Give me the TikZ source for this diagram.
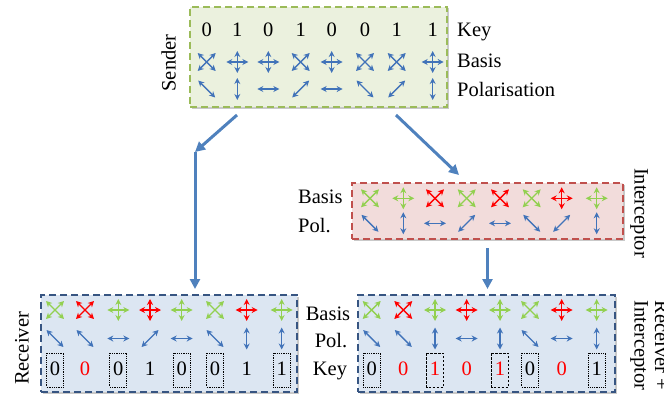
\documentclass[tikz,border=0pt]{standalone}
\usepackage{fontspec}
\setmainfont{Liberation Serif}
\usetikzlibrary{arrows.meta,shadows,calc}

\definecolor{sendfill}{RGB}{235,241,222}
\definecolor{senddraw}{RGB}{155,187,89}
\definecolor{intfill}{RGB}{242,220,219}
\definecolor{intdraw}{RGB}{192,80,77}
\definecolor{recfill}{RGB}{220,230,242}
\definecolor{recdraw}{RGB}{55,85,130}
\definecolor{symblue}{RGB}{65,115,185}
\definecolor{symgreen}{RGB}{146,208,80}
\definecolor{symred}{RGB}{255,0,0}
\definecolor{flowblue}{RGB}{79,129,189}

\tikzset{
  panel/.style={line width=2pt, dash pattern=on 7pt off 4pt, inner sep=0pt,
    drop shadow={shadow xshift=1.5pt, shadow yshift=-1.5pt, opacity=0.3, fill=black!70}},
  lbl/.style={font=\fontsize{20.5}{24}\selectfont, inner sep=0pt},
  flow/.style={draw=flowblue, line width=3pt, -{Triangle[length=10pt,width=10pt]}},
  sym/.style={line width=1.4pt, {Stealth[length=6pt,width=6pt]}-{Stealth[length=6pt,width=6pt]}},
  dotbox/.style={draw=black, line width=0.8pt, densely dotted},
  dashbox/.style={draw=black, line width=0.8pt, dash pattern=on 2.5pt off 1.5pt},
  pics/bplus/.style={code={\draw[sym] (-11,0)--(11,0); \draw[sym] (0,-11)--(0,11);}},
  pics/bcross/.style={code={\draw[sym] (-9,-9)--(9,9); \draw[sym] (-9,9)--(9,-9);}},
  pics/pdiag/.style={code={\draw[sym] (-8.5,-8.5)--(8.5,8.5);}},
  pics/panti/.style={code={\draw[sym] (-8.5,8.5)--(8.5,-8.5);}},
  pics/pvert/.style={code={\draw[sym] (0,-11)--(0,11);}},
  pics/phoriz/.style={code={\draw[sym] (-11,0)--(11,0);}},
}

\begin{document}
\begin{tikzpicture}[x=1pt,y=-1pt]
\useasboundingbox (0,0) rectangle (664,396);

% ---- panels ----
\node[panel, fill=sendfill, draw=senddraw, minimum width=257pt, minimum height=100pt] (sender) at (318.5,57) {};
\node[panel, fill=intfill, draw=intdraw, minimum width=271pt, minimum height=56pt] (interceptor) at (487.5,211) {};
\node[panel, fill=recfill, draw=recdraw, minimum width=256pt, minimum height=97pt] (receiver) at (169,343.5) {};
\node[panel, fill=recfill, draw=recdraw, minimum width=257pt, minimum height=97pt] (recint) at (486.5,343.5) {};

% ---- flow arrows ----
\coordinate (bend) at (195,152);
\draw[flow] ($(sender.south west)+(48,7)$) -- (bend);
\draw[flow, shorten >=5pt] (bend) -- (bend |- receiver.north);
\draw[flow] ($(sender.south west)+(207,7)$) -- ($(interceptor.north west)+(108,-7)$);
\draw[flow, shorten <=8pt, shorten >=5pt] (interceptor.south) -- (interceptor.south |- recint.north);

% ---- sender ----
\foreach \x/\k in {206.7/0,237.3/1,268.3/0,300.7/1,331.7/0,365/0,396.7/1,432.7/1}
  \node[lbl, anchor=base] (sk\k) at (\x,37) {\k};
\foreach \x/\s in {206.7/bcross,237.3/bplus,268.3/bplus,300.7/bcross,331.7/bplus,365/bcross,396.7/bcross,432.7/bplus}
  \pic[color=symblue] at (\x,62) {\s};
\foreach \x/\s in {206.7/pdiag,237.3/pvert,268.3/phoriz,300.7/panti,331.7/phoriz,365/pdiag,396.7/panti,432.7/pvert}
  \pic[color=symblue] at (\x,89) {\s};
\node[lbl, anchor=base west] (skey) at (457,37) {Key};
\node[lbl, anchor=base west] (sbasis) at (457,68) {Basis};
\node[lbl, anchor=base west] (spol) at (457,96.5) {Polarisation};
\node[lbl, rotate=90, anchor=base] (slabel) at (175.5,63) {Sender};

% ---- interceptor ----
\foreach \x/\s/\c in {370/bcross/symgreen,403.3/bplus/symgreen,435/bcross/symred,466.7/bcross/symgreen,500/bcross/symred,531.7/bcross/symgreen,561.7/bplus/symred,596.7/bplus/symgreen}
  \pic[color=\c] at (\x,198.3) {\s};
\foreach \x/\s in {370/pdiag,403.3/pvert,435/phoriz,466.7/panti,500/phoriz,531.7/pdiag,561.7/panti,596.7/pvert}
  \pic[color=symblue] at (\x,223.3) {\s};
\node[lbl, anchor=base west] (ibasis) at (298,203) {Basis};
\node[lbl, anchor=base west] (ipol) at (298,232) {Pol.};
\node[lbl, rotate=-90, anchor=base] (ilabel) at (634.5,213) {Interceptor};

% ---- receiver ----
\foreach \x/\s/\c in {55/bcross/symgreen,85/bcross/symred,118.3/bplus/symgreen,150/bplus/symred,181.7/bplus/symgreen,215/bcross/symgreen,246.7/bplus/symred,281.7/bplus/symgreen}
  \pic[color=\c] at (\x,310) {\s};
\foreach \x/\s in {55/pdiag,85/pdiag,118.3/phoriz,150/panti,181.7/phoriz,215/pdiag,246.7/pvert,281.7/pvert}
  \pic[color=symblue] at (\x,338.5) {\s};
\foreach \x/\k/\c in {55/0/black,85/0/symred,118.3/0/black,150/1/black,181.7/0/black,215/0/black,246.7/1/black,281.7/1/black}
  \node[lbl, anchor=base, text=\c] at (\x,375.5) {\k};
\foreach \x in {55,118.3,181.7,215,281.7}
  \draw[dotbox] (\x-8.5,353) rectangle (\x+8.5,387);
\node[lbl, anchor=base] (rbasis) at (328,320) {Basis};
\node[lbl, anchor=base] (rpol) at (331,347) {Pol.};
\node[lbl, anchor=base] (rkey) at (330,375.5) {Key};
\node[lbl, rotate=90, anchor=base] (rlabel) at (28.5,348.5) {Receiver};

% ---- receiver + interceptor ----
\foreach \x/\s/\c in {371.7/bcross/symgreen,403.3/bcross/symred,435/bplus/symgreen,466.7/bplus/symred,500/bplus/symgreen,530/bcross/symgreen,561.7/bplus/symred,596.7/bplus/symgreen}
  \pic[color=\c] at (\x,310) {\s};
\foreach \x/\s in {371.7/pdiag,403.3/pdiag,435/pvert,466.7/phoriz,500/pvert,530/pdiag,561.7/phoriz,596.7/pvert}
  \pic[color=symblue] at (\x,338.5) {\s};
\foreach \x/\k/\c in {371.7/0/black,403.3/0/symred,435/1/symred,466.7/0/symred,500/1/symred,530/0/black,561.7/0/symred,596.7/1/black}
  \node[lbl, anchor=base, text=\c] at (\x,375.5) {\k};
\foreach \x in {371.7,530,596.7}
  \draw[dotbox] (\x-8.5,353) rectangle (\x+8.5,387);
\foreach \x in {435,500}
  \draw[dashbox] (\x-8.5,353) rectangle (\x+8.5,387);
\node[lbl, rotate=-90, anchor=base] (rilabel) at (634.5,345.5) {Interceptor};
\node[lbl, rotate=-90, anchor=base] (rilabel2) at (655,345.5) {Receiver +};
\end{tikzpicture}
\end{document}
